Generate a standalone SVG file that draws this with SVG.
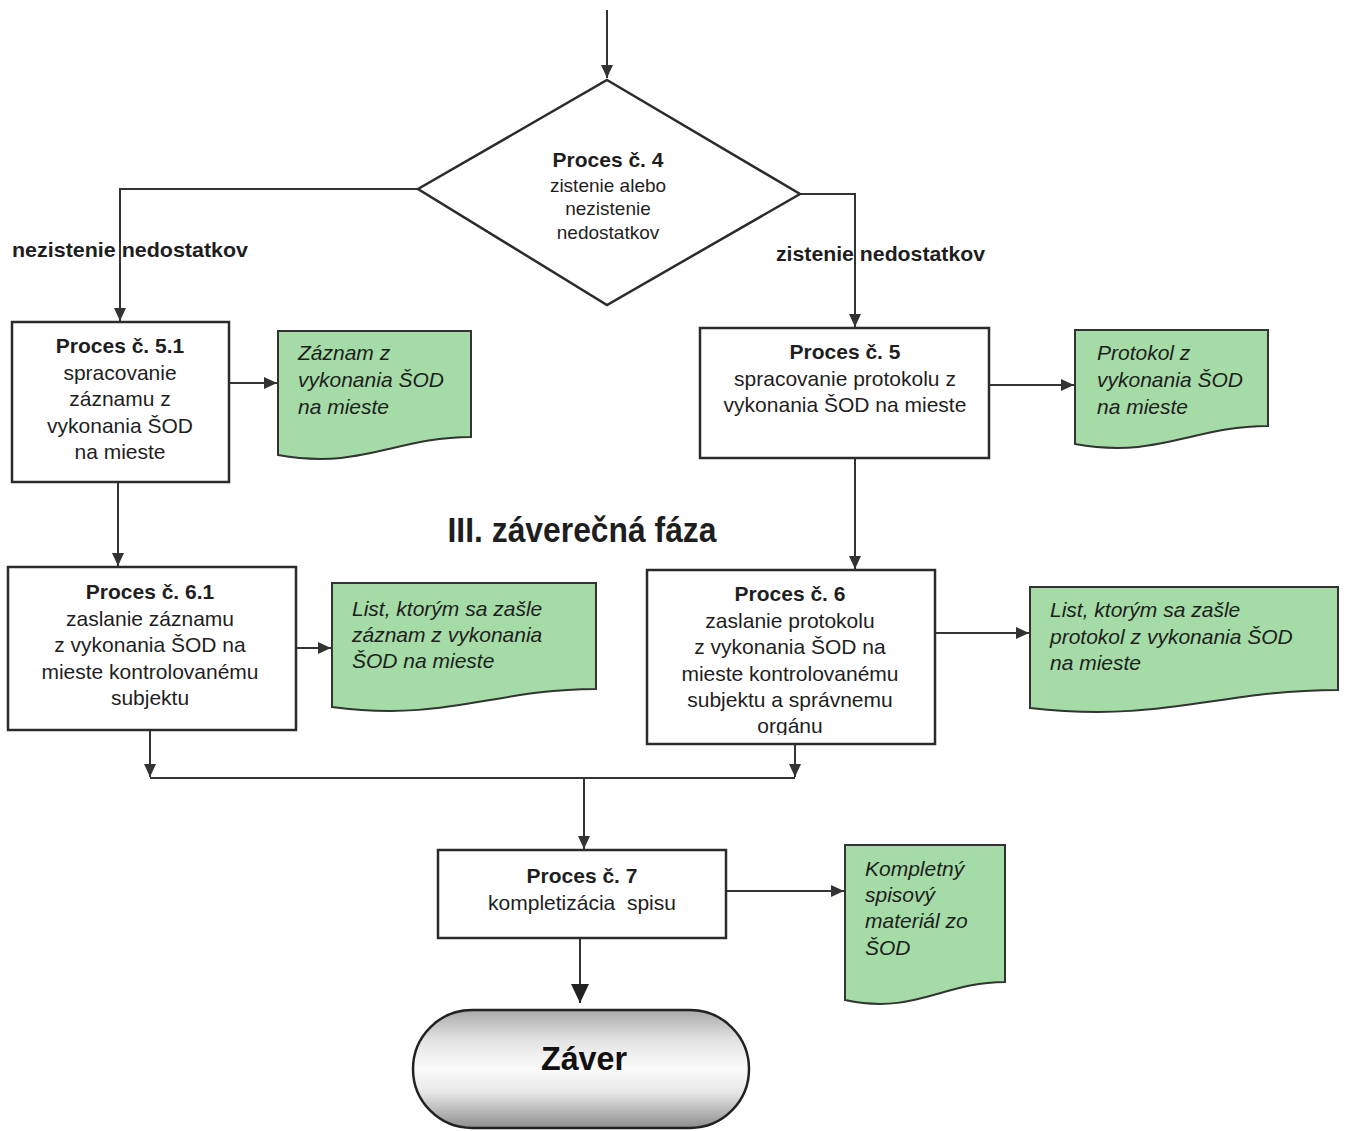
<svg xmlns="http://www.w3.org/2000/svg" width="1346" height="1131" viewBox="0 0 1346 1131">
<style>
.box{fill:#fff;stroke:#2b2b2b;stroke-width:2.5}
.doc{fill:#a5dba6;stroke:#333;stroke-width:2}
.t{font-family:"Liberation Sans",Arial,sans-serif;font-size:21px;fill:#1e1e1e;text-anchor:middle}
.b{font-weight:bold}
.i{font-family:"Liberation Sans",Arial,sans-serif;font-size:21px;font-style:italic;fill:#1e1e1e}
.dt{font-family:"Liberation Sans",Arial,sans-serif;font-size:19px;fill:#1e1e1e;text-anchor:middle}
.lbl{font-family:"Liberation Sans",Arial,sans-serif;font-size:21px;font-weight:bold;fill:#1e1e1e}
.c{fill:none;stroke:#333;stroke-width:2}
</style>
<defs>
<marker id="ah" markerUnits="userSpaceOnUse" markerWidth="14" markerHeight="12" refX="13" refY="6" orient="auto">
<path d="M0,0 L13,6 L0,12 Z" fill="#333"/>
</marker>
<marker id="ahb" markerUnits="userSpaceOnUse" markerWidth="20" markerHeight="18" refX="19" refY="9" orient="auto">
<path d="M0,0 L19,9 L0,18 Z" fill="#222"/>
</marker>
<linearGradient id="gz" x1="0" y1="0" x2="0" y2="1">
<stop offset="0" stop-color="#a9a9a9"/>
<stop offset="0.25" stop-color="#e2e2e2"/>
<stop offset="0.5" stop-color="#fbfbfb"/>
<stop offset="0.7" stop-color="#e6e6e6"/>
<stop offset="1" stop-color="#8e8e8e"/>
</linearGradient>
<clipPath id="clip6"><rect x="649" y="572" width="284" height="163"/></clipPath>
</defs>

<g id="connectors">
<path class="c" d="M607,10 V78" marker-end="url(#ah)"/>
<path class="c" d="M418,189 H120 V321" marker-end="url(#ah)"/>
<path class="c" d="M800,194 H855 V327" marker-end="url(#ah)"/>
<path class="c" d="M229,383 H277" marker-end="url(#ah)"/>
<path class="c" d="M118,482 V566" marker-end="url(#ah)"/>
<path class="c" d="M296,648 H331" marker-end="url(#ah)"/>
<path class="c" d="M989,385 H1074" marker-end="url(#ah)"/>
<path class="c" d="M855,458 V569" marker-end="url(#ah)"/>
<path class="c" d="M935,633 H1029" marker-end="url(#ah)"/>
<path class="c" d="M150,730 V777" marker-end="url(#ah)"/>
<path class="c" d="M795,744 V777" marker-end="url(#ah)"/>
<path class="c" d="M150,778 H795"/>
<path class="c" d="M584,778 V849" marker-end="url(#ah)"/>
<path class="c" d="M726,891 H844" marker-end="url(#ah)"/>
<path class="c" d="M580,938 V1003" stroke-width="2.5" marker-end="url(#ahb)"/>
</g>

<g id="label-nezistenie">
<text class="lbl" x="12" y="257" textLength="236" lengthAdjust="spacingAndGlyphs">nezistenie nedostatkov</text>
</g>
<g id="label-zistenie">
<text class="lbl" x="776" y="261" textLength="209" lengthAdjust="spacingAndGlyphs">zistenie nedostatkov</text>
</g>

<g id="proces4">
<polygon points="607,80 800,194 607,305 418,189" fill="#fff" stroke="#2b2b2b" stroke-width="2.5"/>
<text class="t b" x="608" y="167">Proces č. 4</text>
<text class="dt" x="608" y="192">zistenie alebo</text>
<text class="dt" x="608" y="215">nezistenie</text>
<text class="dt" x="608" y="239">nedostatkov</text>
</g>

<g id="proces51">
<rect class="box" x="12" y="322" width="217" height="160"/>
<text class="t b" x="120" y="353">Proces č. 5.1</text>
<text class="t" x="120" y="380">spracovanie</text>
<text class="t" x="120" y="406">záznamu z</text>
<text class="t" x="120" y="433">vykonania ŠOD</text>
<text class="t" x="120" y="459">na mieste</text>
</g>

<g id="doc-zaznam">
<path class="doc" d="M278,331 H471 V437 C396,437 362,470 278,455 Z"/>
<text class="i" x="298" y="360">Záznam z</text>
<text class="i" x="298" y="387">vykonania ŠOD</text>
<text class="i" x="298" y="414">na mieste</text>
</g>

<g id="proces5">
<rect class="box" x="700" y="328" width="289" height="130"/>
<text class="t b" x="845" y="359">Proces č. 5</text>
<text class="t" x="845" y="386">spracovanie protokolu z</text>
<text class="t" x="845" y="412">vykonania ŠOD na mieste</text>
</g>

<g id="doc-protokol">
<path class="doc" d="M1075,330 H1268 V426 C1193,426 1159,459 1075,444 Z"/>
<text class="i" x="1097" y="360">Protokol z</text>
<text class="i" x="1097" y="387">vykonania ŠOD</text>
<text class="i" x="1097" y="414">na mieste</text>
</g>

<g id="title">
<text x="582" y="542" font-family="'Liberation Sans',Arial,sans-serif" font-size="35" font-weight="bold" fill="#1e1e1e" text-anchor="middle" textLength="269" lengthAdjust="spacingAndGlyphs">III. záverečná fáza</text>
</g>

<g id="proces61">
<rect class="box" x="8" y="567" width="288" height="163"/>
<text class="t b" x="150" y="599">Proces č. 6.1</text>
<text class="t" x="150" y="626">zaslanie záznamu</text>
<text class="t" x="150" y="652">z vykonania ŠOD na</text>
<text class="t" x="150" y="679">mieste kontrolovanému</text>
<text class="t" x="150" y="705">subjektu</text>
</g>

<g id="doc-list-zaznam">
<path class="doc" d="M332,583 H596 V689 C494,689 447,722 332,707 Z"/>
<text class="i" x="352" y="616">List, ktorým sa zašle</text>
<text class="i" x="352" y="642">záznam z vykonania</text>
<text class="i" x="352" y="668">ŠOD na mieste</text>
</g>

<g id="proces6">
<rect class="box" x="647" y="570" width="288" height="174"/>
<g clip-path="url(#clip6)">
<text class="t b" x="790" y="601">Proces č. 6</text>
<text class="t" x="790" y="628">zaslanie protokolu</text>
<text class="t" x="790" y="654">z vykonania ŠOD na</text>
<text class="t" x="790" y="681">mieste kontrolovanému</text>
<text class="t" x="790" y="707">subjektu a správnemu</text>
<text class="t" x="790" y="733">orgánu</text>
</g>
</g>

<g id="doc-list-protokol">
<path class="doc" d="M1030,587 H1338 V690 C1219,690 1164,723 1030,708 Z"/>
<text class="i" x="1050" y="617">List, ktorým sa zašle</text>
<text class="i" x="1050" y="644">protokol z vykonania ŠOD</text>
<text class="i" x="1050" y="670">na mieste</text>
</g>

<g id="proces7">
<rect class="box" x="438" y="850" width="288" height="88"/>
<text class="t b" x="582" y="883">Proces č. 7</text>
<text class="t" x="582" y="910" xml:space="preserve">kompletizácia  spisu</text>
</g>

<g id="doc-kompletny">
<path class="doc" d="M845,845 H1005 V982 C943,982 915,1015 845,1000 Z"/>
<text class="i" x="865" y="876">Kompletný</text>
<text class="i" x="865" y="902">spisový</text>
<text class="i" x="865" y="928">materiál zo</text>
<text class="i" x="865" y="955">ŠOD</text>
</g>

<g id="zaver">
<rect x="413" y="1010" width="336" height="118" rx="59" ry="59" fill="url(#gz)" stroke="#222" stroke-width="2.5"/>
<text x="584" y="1070" font-family="'Liberation Sans',Arial,sans-serif" font-size="34" font-weight="bold" fill="#111" text-anchor="middle" textLength="86" lengthAdjust="spacingAndGlyphs">Záver</text>
</g>
</svg>
